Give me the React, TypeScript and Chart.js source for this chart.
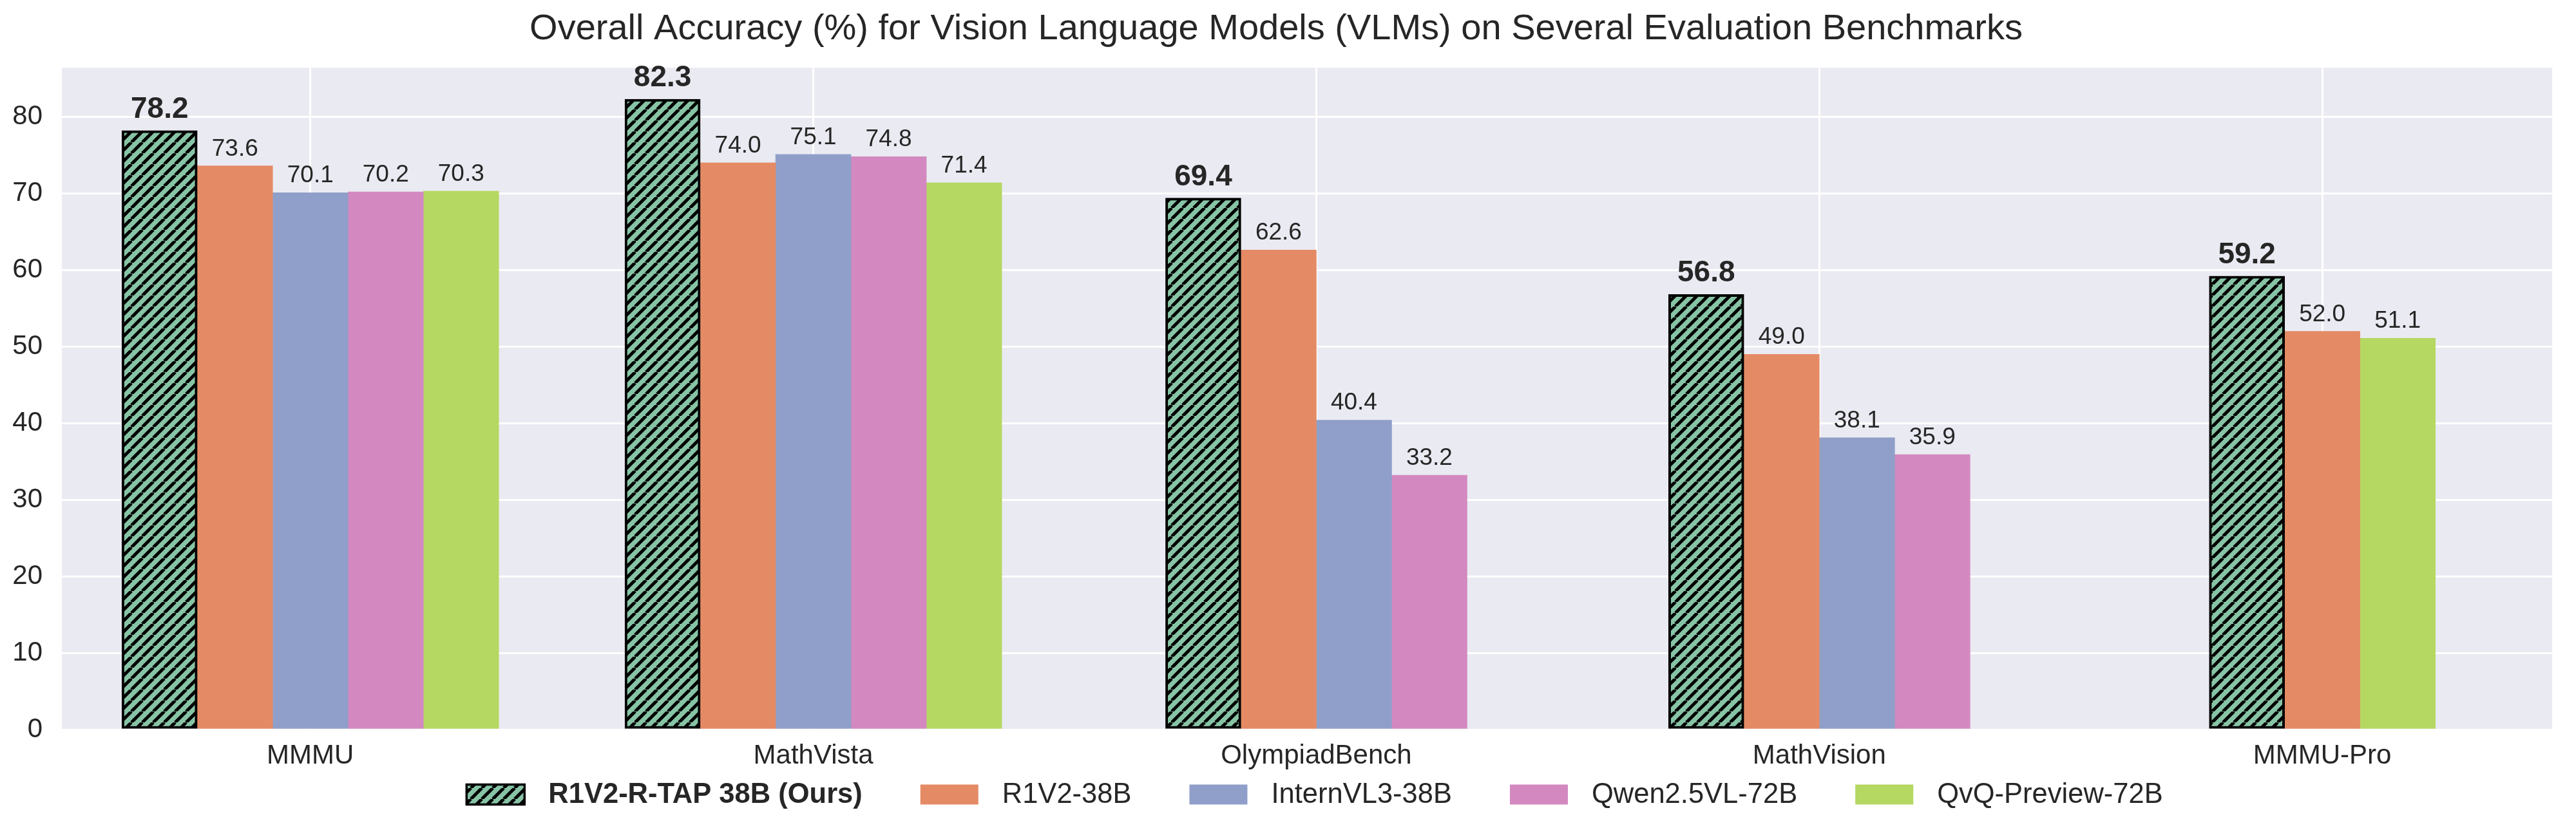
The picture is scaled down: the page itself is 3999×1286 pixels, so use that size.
import React, { useEffect, useRef } from 'react';
import { Chart, registerables } from 'chart.js';

Chart.register(...registerables);

const categories = ['MMMU', 'MathVista', 'OlympiadBench', 'MathVision', 'MMMU-Pro'];
const models = ['R1V2-R-TAP 38B (Ours)', 'R1V2-38B', 'InternVL3-38B', 'Qwen2.5VL-72B', 'QvQ-Preview-72B'];
const r1v2RTap = [78.2, 82.3, 69.4, 56.8, 59.2];
const r1v2 = [73.6, 74.0, 62.6, 49.0, 52.0];
const internVL3 = [70.1, 75.1, 40.4, 38.1, null];
const qwen25VL = [70.2, 74.8, 33.2, 35.9, null];
const qvqPreview = [70.3, 71.4, null, null, 51.1];
const seriesValues = [r1v2RTap, r1v2, internVL3, qwen25VL, qvqPreview];
const yTickStep = 10;
const yMax = 86.415;

const colors = ['#87c4a6', '#e48b65', '#8f9fc9', '#d389bf', '#b5d862'];
const TEXT = '#262626';
const FONT = "'Liberation Sans', Arial, Helvetica, sans-serif";
const W = 3999;
const H = 1286;

function makeHatch(): CanvasPattern | string {
  const s = 17;
  const c = document.createElement('canvas');
  c.width = s;
  c.height = s;
  const g = c.getContext('2d');
  if (!g) return colors[0];
  g.fillStyle = colors[0];
  g.fillRect(0, 0, s, s);
  g.strokeStyle = '#000';
  g.lineWidth = 5;
  g.beginPath();
  for (const k of [-1, 0, 1]) {
    g.moveTo(k * s, s);
    g.lineTo(k * s + s, 0);
  }
  g.stroke();
  const p = g.createPattern(c, 'repeat');
  return p || colors[0];
}

export default function App() {
  const ref = useRef<HTMLCanvasElement | null>(null);

  useEffect(() => {
    document.body.style.margin = '0';
    const canvas = ref.current;
    if (!canvas) return;
    const hatch = makeHatch();

    const datasets = models.map((m, i) => ({
      label: m,
      data: categories.map((_, j) => ({ x: j, y: seriesValues[i][j] })),
      backgroundColor: i === 0 ? hatch : colors[i],
      borderColor: i === 0 ? '#000' : colors[i],
      borderWidth: i === 0 ? 4 : 0,
      borderSkipped: i === 0 ? false : 'start',
      barThickness: 117,
      skipNull: true,
    }));

    const bgPlugin = {
      id: 'bg',
      beforeDraw(chart: any) {
        const { ctx, chartArea: a } = chart;
        ctx.save();
        ctx.fillStyle = '#eaeaf2';
        ctx.fillRect(a.left, a.top, a.right - a.left, a.bottom - a.top);
        ctx.restore();
      },
    };

    const valuePlugin = {
      id: 'values',
      afterDatasetsDraw(chart: any) {
        const ctx = chart.ctx;
        ctx.save();
        ctx.textAlign = 'center';
        ctx.textBaseline = 'alphabetic';
        ctx.fillStyle = TEXT;
        chart.data.datasets.forEach((ds: any, i: number) => {
          const meta = chart.getDatasetMeta(i);
          ctx.font = i === 0 ? `bold 46px ${FONT}` : `37px ${FONT}`;
          const off = i === 0 ? 20 : 16;
          meta.data.forEach((el: any, j: number) => {
            const v = seriesValues[i][j];
            if (v === null || v === undefined) return;
            ctx.fillText(v.toFixed(1), el.x, el.y - off);
          });
        });
        ctx.restore();
      },
    };

    const legendPlugin = {
      id: 'customLegend',
      afterDraw(chart: any) {
        const ctx = chart.ctx;
        const patchW = 90;
        const patchH = 31;
        const textPad = 37;
        const colSpace = 90;
        const cy = 1234;
        const centerX = 2041;
        ctx.save();
        const widths = models.map((m, i) => {
          ctx.font = i === 0 ? `bold 43.5px ${FONT}` : `43.5px ${FONT}`;
          return ctx.measureText(m).width;
        });
        const total =
          widths.reduce((s, w) => s + patchW + textPad + w, 0) + colSpace * (models.length - 1);
        let x = centerX - total / 2;
        models.forEach((m, i) => {
          ctx.fillStyle = i === 0 ? hatch : colors[i];
          ctx.fillRect(x, cy - patchH / 2, patchW, patchH);
          if (i === 0) {
            ctx.strokeStyle = '#000';
            ctx.lineWidth = 3.5;
            ctx.strokeRect(x, cy - patchH / 2, patchW, patchH);
          }
          ctx.font = i === 0 ? `bold 43.5px ${FONT}` : `43.5px ${FONT}`;
          ctx.fillStyle = TEXT;
          ctx.textAlign = 'left';
          ctx.textBaseline = 'middle';
          ctx.fillText(m, x + patchW + textPad, cy + 1);
          x += patchW + textPad + widths[i] + colSpace;
        });
        ctx.restore();
      },
    };

    const chart = new Chart(canvas, {
      type: 'bar',
      data: { datasets: datasets as any },
      options: {
        animation: false,
        responsive: false,
        devicePixelRatio: 1,
        layout: { padding: { left: 0, right: 37, top: 0, bottom: 73 } },
        plugins: {
          legend: { display: false },
          tooltip: { enabled: false },
          title: {
            display: true,
            text: 'Overall Accuracy (%) for Vision Language Models (VLMs) on Several Evaluation Benchmarks',
            color: TEXT,
            font: { family: FONT, size: 56, weight: 'normal', lineHeight: 1.2 },
            padding: { top: 12, bottom: 26 },
          },
        },
        scales: {
          x: {
            type: 'linear',
            min: -0.494,
            max: 4.457,
            offset: false,
            border: { display: false },
            grid: { color: '#ffffff', lineWidth: 3, drawTicks: false, offset: false },
            afterFit: (scale: any) => {
              scale.height = 80;
            },
            ticks: {
              stepSize: 1,
              includeBounds: false,
              autoSkip: false,
              maxRotation: 0,
              padding: 16,
              color: TEXT,
              font: { family: FONT, size: 42 },
              callback: (v: any) => {
                const n = Number(v);
                return Number.isInteger(n) && categories[n] ? categories[n] : '';
              },
            },
          },
          y: {
            min: 0,
            max: yMax,
            border: { display: false },
            grid: { color: '#ffffff', lineWidth: 3, drawTicks: false },
            afterFit: (scale: any) => {
              scale.width = 96;
            },
            ticks: {
              stepSize: yTickStep,
              includeBounds: false,
              padding: 30,
              color: TEXT,
              font: { family: FONT, size: 42 },
            },
          },
        },
      },
      plugins: [bgPlugin, valuePlugin, legendPlugin],
    } as any);

    return () => {
      chart.destroy();
    };
  }, []);

  return (
    <div style={{ position: 'absolute', left: 0, top: 0, width: W, height: H, background: '#fff' }}>
      <canvas ref={ref} width={W} height={H} style={{ width: W, height: H, display: 'block' }} />
    </div>
  );
}
